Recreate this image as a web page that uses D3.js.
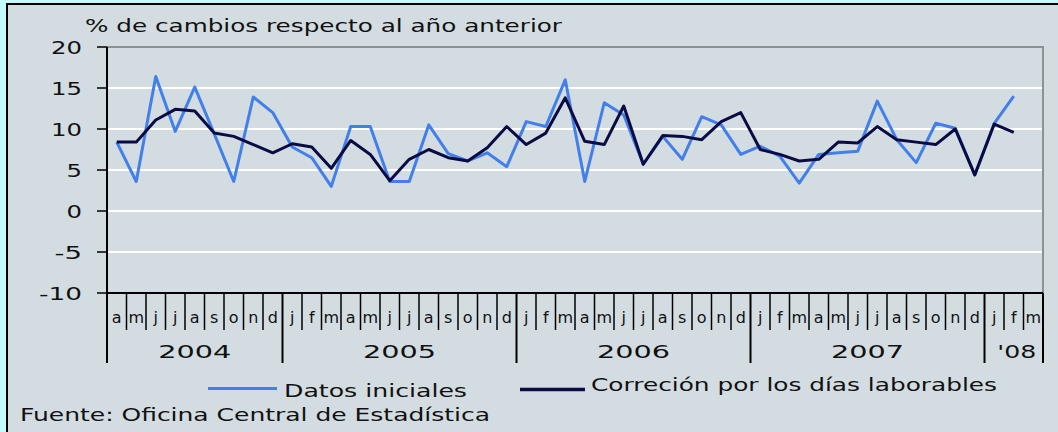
<!DOCTYPE html>
<meta charset="utf-8">
<html>
<style>
body { margin: 0; background: #c4fbff; }
text { font-family: "DejaVu Sans", Verdana, sans-serif; fill: #111; }
</style>
<svg width="1058" height="432"></svg>
<script src="https://d3js.org/d3.v7.min.js"></script>
<script>
// months Apr 2004 .. Mar 2008 (axis categories)
var monthLetters = ["a","m","j","j","a","s","o","n","d",
  "j","f","m","a","m","j","j","a","s","o","n","d",
  "j","f","m","a","m","j","j","a","s","o","n","d",
  "j","f","m","a","m","j","j","a","s","o","n","d",
  "j","f","m"];
var years = [{label: "2004", from: 0, to: 9},
             {label: "2005", from: 9, to: 21},
             {label: "2006", from: 21, to: 33},
             {label: "2007", from: 33, to: 45},
             {label: "'08", from: 45, to: 48}];
var yTicks = [20, 15, 10, 5, 0, -5, -10];

// % change vs previous year, Apr 2004 .. Feb 2008
var datosIniciales = [8.4, 3.6, 16.4, 9.7, 15.1, 9.4, 3.6, 13.9, 12.0,
  7.8, 6.5, 3.0, 10.3, 10.3, 3.6, 3.6, 10.5, 7.0, 6.1, 7.1, 5.4,
  10.9, 10.3, 16.0, 3.6, 13.2, 11.7, 5.7, 9.1, 6.3, 11.5, 10.5, 6.9,
  7.9, 6.7, 3.4, 6.9, 7.1, 7.3, 13.4, 8.7, 5.9, 10.7, 10.1, 4.4,
  10.7, 14.0];
var correccion = [8.4, 8.4, 11.1, 12.4, 12.2, 9.5, 9.1, 8.1, 7.1,
  8.2, 7.8, 5.2, 8.6, 6.9, 3.7, 6.3, 7.5, 6.5, 6.1, 7.7, 10.3,
  8.1, 9.5, 13.8, 8.5, 8.1, 12.8, 5.7, 9.2, 9.1, 8.7, 10.9, 12.0,
  7.5, 6.9, 6.1, 6.3, 8.4, 8.3, 10.3, 8.7, 8.4, 8.1, 10.0, 4.4,
  10.6, 9.6];

var svg = d3.select("svg");
var plotLeft = 107, plotRight = 1043, plotTop = 47, plotBottom = 293;

// panel
svg.append("rect")
    .attr("x", 7).attr("y", 4).attr("width", 1060).attr("height", 440)
    .attr("fill", "#d3dde1").attr("stroke", "#000").attr("stroke-width", 2);

var x = d3.scaleBand().domain(d3.range(monthLetters.length)).range([plotLeft, plotRight]);
var y = d3.scaleLinear().domain([-10, 20]).range([plotBottom, plotTop]);

// white gridlines
svg.append("g").selectAll("line")
    .data(yTicks.filter(function(d) { return d > -10 && d < 20; }))
    .enter().append("line")
    .attr("x1", plotLeft).attr("x2", plotRight)
    .attr("y1", function(d) { return y(d); }).attr("y2", function(d) { return y(d); })
    .attr("stroke", "#fff").attr("stroke-width", 2);

// top and right frame
svg.append("path")
    .attr("d", "M" + plotLeft + "," + plotTop + "H" + plotRight + "V" + plotBottom)
    .attr("fill", "none").attr("stroke", "#8a9296").attr("stroke-width", 2);

// y axis
svg.append("line").attr("x1", plotLeft).attr("x2", plotLeft).attr("y1", plotTop).attr("y2", 363)
    .attr("stroke", "#000").attr("stroke-width", 2);
svg.append("g").selectAll("line").data(yTicks).enter().append("line")
    .attr("x1", 97).attr("x2", plotLeft)
    .attr("y1", function(d) { return y(d); }).attr("y2", function(d) { return y(d); })
    .attr("stroke", "#000").attr("stroke-width", 1.5);
svg.append("g").selectAll("text").data(yTicks).enter().append("text")
    .attr("x", 82).attr("y", function(d) { return y(d) + 6.5; })
    .attr("text-anchor", "end").attr("font-size", 18)
    .attr("textLength", function(d) { var s = String(d); return s.replace("-", "").length * 15.5 + (d < 0 ? 12 : 0); })
    .attr("lengthAdjust", "spacingAndGlyphs")
    .text(function(d) { return d; });

// x axis
svg.append("line").attr("x1", plotLeft).attr("x2", plotRight).attr("y1", plotBottom).attr("y2", plotBottom)
    .attr("stroke", "#000").attr("stroke-width", 2);
var bounds = d3.range(monthLetters.length + 1);
var yearBounds = years.map(function(d) { return d.from; }).concat([monthLetters.length]);
svg.append("g").selectAll("line").data(bounds).enter().append("line")
    .attr("x1", function(i) { return plotLeft + i * x.bandwidth(); })
    .attr("x2", function(i) { return plotLeft + i * x.bandwidth(); })
    .attr("y1", plotBottom)
    .attr("y2", function(i) { return yearBounds.indexOf(i) >= 0 ? 363 : 330; })
    .attr("stroke", "#000")
    .attr("stroke-width", function(i) { return yearBounds.indexOf(i) >= 0 ? 2 : 1.5; });
svg.append("g").selectAll("text").data(monthLetters).enter().append("text")
    .attr("x", function(d, i) { return x(i) + x.bandwidth() / 2; })
    .attr("y", 323).attr("text-anchor", "middle").attr("font-size", 16)
    .text(function(d) { return d; });
svg.append("g").selectAll("text").data(years).enter().append("text")
    .attr("x", function(d) { return (x(d.from) + plotLeft + d.to * x.bandwidth()) / 2 + (d.label === "'08" ? 3 : 0); })
    .attr("y", 358).attr("text-anchor", "middle").attr("font-size", 18)
    .attr("textLength", function(d) { return d.label === "'08" ? 39 : 73; })
    .attr("lengthAdjust", "spacingAndGlyphs")
    .text(function(d) { return d.label; });

// series
var line = d3.line()
    .x(function(d, i) { return x(i) + x.bandwidth() / 2; })
    .y(function(d) { return y(d); });
svg.append("path").datum(datosIniciales)
    .attr("d", line).attr("fill", "none")
    .attr("stroke", "#437fea").attr("stroke-width", 3).attr("stroke-linejoin", "round");
svg.append("path").datum(correccion)
    .attr("d", line).attr("fill", "none")
    .attr("stroke", "#0a0b45").attr("stroke-width", 3).attr("stroke-linejoin", "round");

// title
svg.append("text").attr("x", 85).attr("y", 32).attr("font-size", 17)
    .attr("textLength", 477).attr("lengthAdjust", "spacingAndGlyphs")
    .text("% de cambios respecto al año anterior");

// legend
svg.append("line").attr("x1", 208).attr("x2", 277).attr("y1", 388.5).attr("y2", 388.5)
    .attr("stroke", "#437fea").attr("stroke-width", 3);
svg.append("text").attr("x", 284).attr("y", 397).attr("font-size", 17)
    .attr("textLength", 183).attr("lengthAdjust", "spacingAndGlyphs")
    .text("Datos iniciales");
svg.append("line").attr("x1", 520).attr("x2", 585).attr("y1", 389.5).attr("y2", 389.5)
    .attr("stroke", "#0a0b45").attr("stroke-width", 3.5);
svg.append("text").attr("x", 591).attr("y", 391).attr("font-size", 17)
    .attr("textLength", 406).attr("lengthAdjust", "spacingAndGlyphs")
    .text("Correción por los días laborables");

// source
svg.append("text").attr("x", 20).attr("y", 421).attr("font-size", 17)
    .attr("textLength", 470).attr("lengthAdjust", "spacingAndGlyphs")
    .text("Fuente: Oficina Central de Estadística");
</script>
</html>
